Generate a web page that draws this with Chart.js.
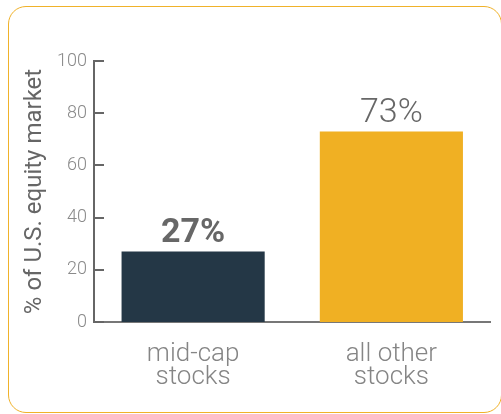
<!DOCTYPE html>
<html>
<head>
<meta charset="utf-8">
<script src="https://cdn.jsdelivr.net/npm/chart.js@4"></script>
<style>
  html, body { margin: 0; padding: 0; background: #fff; }
  #wrap { position: relative; width: 501px; height: 414px; overflow: hidden; }
  #frame { position: absolute; left: 8px; top: 6px; width: 494px; height: 407px; box-sizing: border-box;
           border: 1.5px solid #f0b22a; border-radius: 18px; }
  #c { position: absolute; left: 0; top: 0; }
</style>
</head>
<body>
<div id="wrap">
  <div id="frame"></div>
  <canvas id="c" width="501" height="414"></canvas>
</div>
<script>
const categories = [['mid-cap', 'stocks'], ['all other', 'stocks']];
const shares = [27, 73];
const yTicks = [0, 20, 40, 60, 80, 100];
const yTitle = '% of U.S. equity market';

const barColors = ['#243746', '#f0b023'];
const labelFonts = ['bold 34px Roboto', '300 34px Roboto'];

const innerTicks = {
  id: 'innerTicks',
  afterDraw(chart) {
    const { ctx, chartArea, scales } = chart;
    ctx.save();
    ctx.strokeStyle = '#666';
    ctx.lineWidth = 2;
    yTicks.forEach(v => {
      const y = Math.round(scales.y.getPixelForValue(v));
      ctx.beginPath();
      ctx.moveTo(chartArea.left, y);
      ctx.lineTo(chartArea.left + 10, y);
      ctx.stroke();
    });
    ctx.restore();
  }
};

const valueLabels = {
  id: 'valueLabels',
  afterDatasetsDraw(chart) {
    const { ctx } = chart;
    const meta = chart.getDatasetMeta(0);
    ctx.save();
    ctx.fillStyle = '#676767';
    ctx.textAlign = 'center';
    ctx.textBaseline = 'alphabetic';
    meta.data.forEach((bar, i) => {
      ctx.font = labelFonts[i];
      ctx.fillText(shares[i] + '%', bar.x, bar.y - 9.5);
    });
    ctx.restore();
  }
};

new Chart(document.getElementById('c'), {
  type: 'bar',
  data: {
    labels: categories,
    datasets: [{
      data: shares,
      backgroundColor: barColors,
      borderWidth: 0,
      categoryPercentage: 1,
      barPercentage: 0.722
    }]
  },
  options: {
    responsive: false,
    animation: false,
    events: [],
    layout: { padding: { left: 0, top: 61, right: 10.5, bottom: 0 } },
    plugins: { legend: { display: false }, tooltip: { enabled: false } },
    scales: {
      x: {
        grid: { display: false, drawTicks: false },
        border: { display: true, color: '#777', width: 2 },
        ticks: {
          color: '#858585',
          padding: 21,
          font: { family: 'Roboto', weight: '300', size: 26, lineHeight: 0.885 }
        },
        afterFit(scale) { scale.height = 92; }
      },
      y: {
        min: 0, max: 100,
        afterBuildTicks(scale) { scale.ticks = yTicks.map(v => ({ value: v })); },
        grid: { display: false, drawTicks: false },
        border: { display: true, color: '#666', width: 2 },
        ticks: {
          color: '#8a8a8a',
          padding: 7,
          font: { family: 'Roboto', weight: '300', size: 18 }
        },
        title: {
          display: true,
          text: yTitle,
          color: '#666',
          font: { family: 'Roboto', weight: '400', size: 24, lineHeight: 1.2 },
          padding: { top: 21, bottom: 0 }
        },
        afterFit(scale) { scale.width = 94; }
      }
    }
  },
  plugins: [innerTicks, valueLabels]
});
</script>
</body>
</html>
